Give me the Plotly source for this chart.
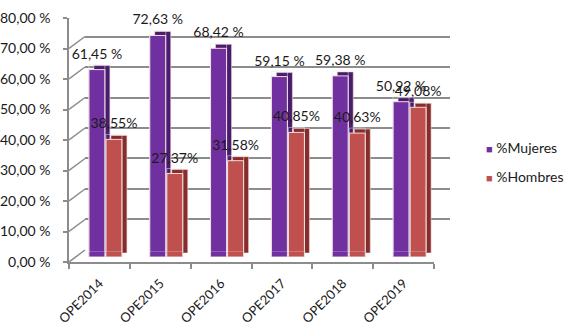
import plotly.graph_objects as go

categories = ["OPE2014", "OPE2015", "OPE2016", "OPE2017", "OPE2018", "OPE2019"]
mujeres = [61.45, 72.63, 68.42, 59.15, 59.38, 50.92]
hombres = [38.55, 27.37, 31.58, 40.85, 40.63, 49.08]
y_tickvals = [0, 10, 20, 30, 40, 50, 60, 70, 80]
y_ticktext = ["0,00 %", "10,00 %", "20,00 %", "30,00 %", "40,00 %",
              "50,00 %", "60,00 %", "70,00 %", "80,00 %"]
series_names = ["%Mujeres", "%Hombres"]

lab_m = [f"{v:.2f}".replace(".", ",") + " %" for v in mujeres]
lab_h = [f"{v:.2f}".replace(".", ",") + "%" for v in hombres]

PURPLE, PURPLE_D = "#7030A0", "#4A1C6C"
RED, RED_D = "#C0504D", "#862D2A"
EDGE = "#F4D9DC"
GRID = "#8C8C8C"
FONT = "Lato"
TXT = "#1a1a1a"

# pixel layout (style)
W_FIG, H_FIG = 571, 326
PL, PR, PT, PB = 66, 452, 3, 264
W, H = PR - PL, PB - PT
FX0, FX1, FY0, FY1 = 69, 434, 262, 18  # front frame


def dom_x(off):
    return [(FX0 + off - PL) / W, (FX1 + off - PL) / W]


def dom_y(off):
    return [(PB - (FY0 + off)) / H, (PB - (FY1 + off)) / H]


BACK = (16, -12)
BARS = (6, -5)
SHAD = (11, -9)
LABS = (6, -10)

fig = go.Figure()

# back wall (gridlines) subplot: x/y
fig.add_trace(go.Scatter(x=categories, y=[None] * 6, mode="markers",
                         showlegend=False, hoverinfo="skip", xaxis="x", yaxis="y"))
# 3D depth faces
fig.add_trace(go.Bar(x=categories, y=mujeres, marker=dict(color=PURPLE_D, line=dict(color=EDGE, width=0.6)),
                     showlegend=False, hoverinfo="skip", xaxis="x2", yaxis="y2"))
fig.add_trace(go.Bar(x=categories, y=hombres, marker=dict(color=RED_D, line=dict(color=EDGE, width=0.6)),
                     showlegend=False, hoverinfo="skip", xaxis="x2", yaxis="y2"))
# front faces
fig.add_trace(go.Bar(x=categories, y=mujeres, name=series_names[0],
                     marker=dict(color=PURPLE, line=dict(color=EDGE, width=1)),
                     showlegend=False, xaxis="x3", yaxis="y3"))
fig.add_trace(go.Bar(x=categories, y=hombres, name=series_names[1],
                     marker=dict(color=RED, line=dict(color=EDGE, width=1)),
                     showlegend=False, xaxis="x3", yaxis="y3"))

# front frame: left wall diagonals + right floor diagonal
xunit = (FX1 - FX0) / 6
yunit = (FY0 - FY1) / 80
ddx, ddy = BACK[0] / xunit, -BACK[1] / yunit
dxs, dys = [], []
for v in y_tickvals:
    dxs += [-0.5, -0.5 + ddx, None]
    dys += [v, v + ddy, None]
dxs += [5.5, 5.5 + ddx, None]
dys += [0, ddy, None]
fig.add_trace(go.Scatter(x=dxs, y=dys, mode="lines", line=dict(color=GRID, width=1.5),
                         showlegend=False, hoverinfo="skip", cliponaxis=False,
                         xaxis="x4", yaxis="y4"))

# data labels (transparent bars on a slightly raised subplot)
for vals, labs in ((mujeres, lab_m), (hombres, lab_h)):
    fig.add_trace(go.Bar(x=categories, y=vals, text=labs, textposition="outside",
                         marker=dict(color="rgba(0,0,0,0)"), constraintext="none", cliponaxis=False,
                         textfont=dict(family=FONT, size=14, color=TXT),
                         showlegend=False, hoverinfo="skip", xaxis="x5", yaxis="y5"))

# legend entries (coloured square glyph inside the text)
for nm, col, grp in ((series_names[0], PURPLE, "m"), (series_names[1], RED, "h")):
    fig.add_trace(go.Scatter(x=[None], y=[None], mode="markers", legendgroup=grp,
                             name=f'<span style="color:{col};font-size:11px">■</span> {nm}',
                             marker=dict(symbol="square", size=1, color="rgba(0,0,0,0)"),
                             xaxis="x4", yaxis="y4"))

hidden = dict(visible=False, showgrid=False, zeroline=False, fixedrange=True, automargin=False)
cat_range = [-0.5, 5.5]

fig.update_layout(
    width=W_FIG, height=H_FIG,
    margin=dict(l=PL, r=W_FIG - PR, t=PT, b=H_FIG - PB, autoexpand=False),
    paper_bgcolor="white", plot_bgcolor="rgba(0,0,0,0)",
    barmode="group", bargap=0.44, bargroupgap=0.06,
    font=dict(family=FONT, size=14, color=TXT),
    xaxis=dict(domain=dom_x(BACK[0]), range=cat_range, type="category", automargin=False,
               showticklabels=False, showgrid=False, zeroline=False, showline=False, anchor="y"),
    yaxis=dict(domain=dom_y(BACK[1]), range=[-0.05, 80.05], tickvals=y_tickvals, automargin=False,
               showticklabels=False, showgrid=True, gridcolor=GRID, gridwidth=1.5,
               zeroline=False, showline=False, anchor="x"),
    xaxis2=dict(hidden, domain=dom_x(SHAD[0]), range=cat_range, anchor="y2"),
    yaxis2=dict(hidden, domain=dom_y(SHAD[1]), range=[0, 80], anchor="x2"),
    xaxis3=dict(hidden, domain=dom_x(BARS[0]), range=cat_range, anchor="y3"),
    yaxis3=dict(hidden, domain=dom_y(BARS[1]), range=[0, 80], anchor="x3"),
    xaxis4=dict(domain=dom_x(0), range=cat_range, tickvals=list(range(6)), ticktext=categories,
                tickangle=-45, ticks="", ticklabelstandoff=7, automargin=False,
                minor=dict(tickvals=[i - 0.5 for i in range(7)], ticks="outside", ticklen=5,
                           tickcolor=GRID, tickwidth=1.5),
                showline=True, linecolor=GRID, linewidth=1.5, showgrid=False, zeroline=False,
                tickfont=dict(family=FONT, size=13, color=TXT), anchor="y4"),
    yaxis4=dict(domain=dom_y(0), range=[0, 80], tickvals=y_tickvals, ticktext=y_ticktext,
                ticks="outside", ticklen=4, tickcolor=GRID, tickwidth=1.5, ticklabelstandoff=10,
                automargin=False,
                showline=True, linecolor=GRID, linewidth=1.5, showgrid=False, zeroline=False,
                tickfont=dict(family=FONT, size=14, color=TXT), anchor="x4"),
    xaxis5=dict(hidden, domain=dom_x(LABS[0]), range=cat_range, anchor="y5"),
    yaxis5=dict(hidden, domain=dom_y(LABS[1]), range=[0, 80], anchor="x5"),
    legend=dict(x=(446 - PL) / W, y=(PB - 132) / H, xanchor="left", yanchor="top",
                traceorder="grouped", tracegroupgap=8,
                font=dict(family=FONT, size=14, color=TXT), bgcolor="rgba(0,0,0,0)"),
    showlegend=True,
)

fig.write_html("out.html")
